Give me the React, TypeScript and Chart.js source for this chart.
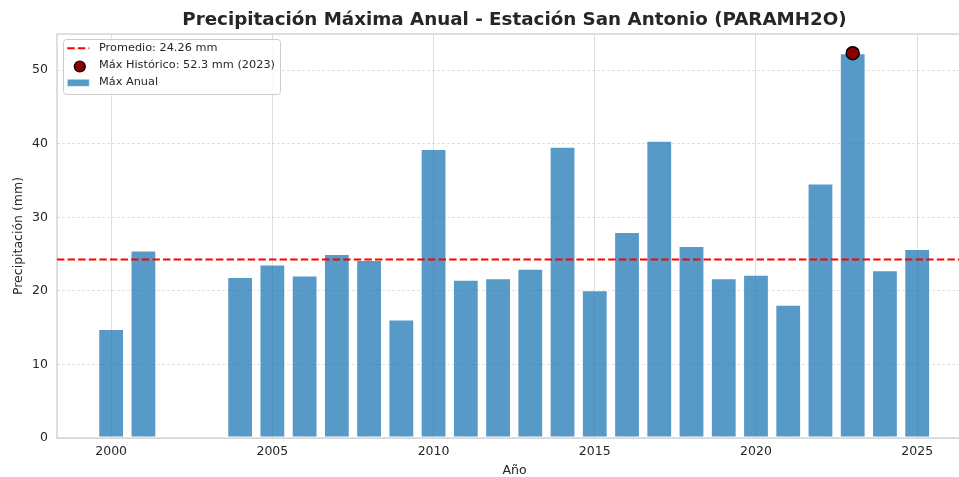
import React, { useEffect, useRef } from "react";
import { Chart, registerables } from "chart.js";

Chart.register(...registerables);

// ---- data ----
const years: number[] = [2000, 2001, 2004, 2005, 2006, 2007, 2008, 2009, 2010, 2011, 2012, 2013, 2014, 2015, 2016, 2017, 2018, 2019, 2020, 2021, 2022, 2023, 2024, 2025];
const maxAnual: number[] = [14.8, 25.5, 21.9, 23.6, 22.1, 25.0, 24.2, 16.1, 39.3, 21.5, 21.7, 23.0, 39.6, 20.1, 28.0, 40.4, 26.1, 21.7, 22.2, 18.1, 34.6, 52.3, 22.8, 25.7];
const promedio = 24.26;
const maxYear = 2023;
const maxValue = 52.3;
const xMin = 1998.32;
const xMax = 2026.7;
const yMin = 0;
const yMax = 54.915;

const titleText = "Precipitación Máxima Anual - Estación San Antonio (PARAMH2O)";
const legendLabels: string[] = [
  `Promedio: ${promedio.toFixed(2)} mm`,
  `Máx Histórico: ${maxValue} mm (${maxYear})`,
  "Máx Anual",
];

const FONT = "'DejaVu Sans', sans-serif";
const TEXT = "#262626";
const BAR_FILL = "rgba(31,119,180,0.75)";
const BAR_EDGE = "rgba(255,255,255,0.55)";

const zeroPad = (s: any) => {
  s.paddingLeft = 0;
  s.paddingRight = 0;
  s.paddingTop = 0;
  s.paddingBottom = 0;
};

const framePlugin = {
  id: "frame",
  beforeDatasetsDraw(chart: any) {
    const { ctx, chartArea: a } = chart;
    ctx.save();
    ctx.strokeStyle = "#cccccc";
    ctx.lineWidth = 1.25;
    ctx.strokeRect(a.left, a.top, a.right - a.left, a.bottom - a.top);
    ctx.restore();
  },
  afterDraw(chart: any) {
    const { ctx, chartArea: a } = chart;
    ctx.save();
    // title
    ctx.fillStyle = TEXT;
    ctx.font = `bold 18.3px ${FONT}`;
    ctx.textAlign = "center";
    ctx.textBaseline = "middle";
    ctx.fillText(titleText, (a.left + a.right) / 2, 20);

    // legend
    const lx = 63.5, ly = 39.5, lw = 217, lh = 55;
    ctx.beginPath();
    ctx.roundRect(lx, ly, lw, lh, 3);
    ctx.fillStyle = "rgba(255,255,255,0.8)";
    ctx.fill();
    ctx.strokeStyle = "#cccccc";
    ctx.lineWidth = 1;
    ctx.stroke();

    const hx0 = 67.3, hx1 = 89.3, tx = 99;
    const rows = [48.3, 65.5, 82.5];
    // dashed line
    ctx.beginPath();
    ctx.setLineDash([7.4, 3.2]);
    ctx.strokeStyle = "red";
    ctx.lineWidth = 2;
    ctx.moveTo(hx0, rows[0]);
    ctx.lineTo(hx1, rows[0]);
    ctx.stroke();
    ctx.setLineDash([]);
    // marker
    ctx.beginPath();
    ctx.arc((hx0 + hx1) / 2 + 1.5, rows[1] + 1, 5.5, 0, Math.PI * 2);
    ctx.fillStyle = "#8B0000";
    ctx.fill();
    ctx.strokeStyle = "black";
    ctx.lineWidth = 1.2;
    ctx.stroke();
    // bar patch
    ctx.fillStyle = BAR_FILL;
    ctx.fillRect(hx0, rows[2] - 3.3, hx1 - hx0, 7.2);
    ctx.strokeStyle = BAR_EDGE;
    ctx.lineWidth = 1;
    ctx.strokeRect(hx0, rows[2] - 3.3, hx1 - hx0, 7.2);

    ctx.fillStyle = TEXT;
    ctx.font = `11.3px ${FONT}`;
    ctx.textAlign = "left";
    ctx.textBaseline = "middle";
    legendLabels.forEach((t, i) => ctx.fillText(t, tx, rows[i]));
    ctx.restore();
  },
};

export default function App() {
  const ref = useRef<HTMLCanvasElement | null>(null);

  useEffect(() => {
    if (!ref.current) return;
    const chart = new Chart(ref.current, {
      type: "bar",
      data: {
        datasets: [
          {
            type: "scatter",
            label: legendLabels[1],
            data: [{ x: maxYear, y: maxValue }],
            backgroundColor: "#8B0000",
            borderColor: "black",
            borderWidth: 1.5,
            pointRadius: 6.5,
            order: 0,
          } as any,
          {
            type: "line",
            label: legendLabels[0],
            data: [
              { x: xMin, y: promedio },
              { x: xMax, y: promedio },
            ],
            borderColor: "red",
            borderWidth: 2,
            borderDash: [7.4, 3.2],
            pointRadius: 0,
            fill: false,
            order: 1,
          } as any,
          {
            type: "bar",
            label: legendLabels[2],
            data: years.map((y, i) => ({ x: y, y: maxAnual[i] })),
            backgroundColor: BAR_FILL,
            borderColor: BAR_EDGE,
            borderWidth: 1,
            borderSkipped: false,
            barPercentage: 0.8,
            categoryPercentage: 1.0,
            order: 2,
          } as any,
        ],
      },
      options: {
        animation: false,
        responsive: false,
        devicePixelRatio: 1,
        layout: { autoPadding: false, padding: { top: 34, right: 0, left: 0, bottom: 0 } },
        plugins: {
          legend: { display: false },
          tooltip: { enabled: false },
          title: { display: false },
        },
        scales: {
          x: {
            type: "linear",
            min: xMin,
            max: xMax,
            offset: false,
            afterFit: (s: any) => {
              s.height = 39;
              zeroPad(s);
            },
            grid: {
              offset: false,
              color: "#dedede",
              lineWidth: 1,
              drawTicks: false,
            },
            border: { display: false },
            ticks: {
              stepSize: 5,
              includeBounds: false,
              padding: 6,
              color: TEXT,
              font: { family: FONT, size: 12.5 },
              maxRotation: 0,
              callback: (v: any) => String(v),
            },
            title: {
              display: true,
              text: "Año",
              color: TEXT,
              font: { family: FONT, size: 12.5, lineHeight: 1 },
              padding: { top: 0, bottom: 0 },
            },
          },
          y: {
            type: "linear",
            min: yMin,
            max: yMax,
            afterFit: (s: any) => {
              s.width = 57;
              zeroPad(s);
            },
            grid: {
              color: "rgba(205,205,205,0.75)",
              lineWidth: 0.8,
              drawTicks: false,
            },
            border: { display: false, dash: [3, 2] },
            ticks: {
              stepSize: 10,
              includeBounds: false,
              padding: 9,
              color: TEXT,
              font: { family: FONT, size: 12.5 },
              callback: (v: any) => String(v),
            },
            title: {
              display: true,
              text: "Precipitación (mm)",
              color: TEXT,
              font: { family: FONT, size: 12.5, lineHeight: 1 },
              padding: { top: 12.75, bottom: 0 },
            },
          },
        },
      },
      plugins: [framePlugin],
    });
    return () => chart.destroy();
  }, []);

  return (
    <div
      style={{
        position: "absolute",
        left: 0,
        top: 0,
        width: 959,
        height: 477,
        overflow: "hidden",
        background: "white",
      }}
    >
      <canvas ref={ref} width={972} height={477} style={{ display: "block", width: 972, height: 477 }} />
    </div>
  );
}
